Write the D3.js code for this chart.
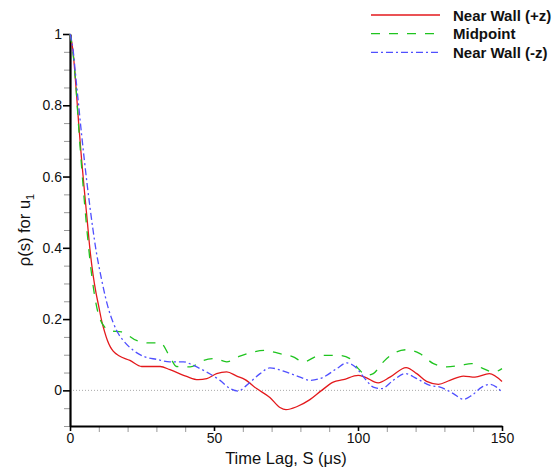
<!DOCTYPE html>
<html>
<head>
<meta charset="utf-8">
<script src="https://d3js.org/d3.v7.min.js"></script>
<style>
  body { margin: 0; background: #fff; }
  text { font-family: "Liberation Sans", Arial, sans-serif; fill: #111; }
</style>
</head>
<body>
<div id="vis"></div>
<script>
// data
var seriesNames = ["Near Wall (+z)", "Midpoint", "Near Wall (-z)"];

var lagRed = [0, 1, 2, 3, 4, 5, 6, 7, 8, 9, 10, 11, 12, 13, 14, 15, 17, 20.8, 24.9, 31.3, 34.7, 40.5, 44.5, 47.5, 50.9, 54.4, 57.9, 60.8, 64.8, 69.4, 72.9, 75, 78.7, 83.3, 87.4, 91.4, 94.9, 100.1, 102.4, 107, 111.1, 116.7, 120.4, 123.8, 127.9, 131.9, 136.6, 140.6, 145.6, 150];
var rhoRed = [1, 0.955, 0.86, 0.75, 0.65, 0.56, 0.475, 0.39, 0.325, 0.275, 0.235, 0.195, 0.165, 0.14, 0.122, 0.11, 0.097, 0.084, 0.067, 0.067, 0.058, 0.039, 0.030, 0.033, 0.047, 0.052, 0.040, 0.030, 0.005, -0.020, -0.048, -0.054, -0.046, -0.026, 0, 0.023, 0.030, 0.042, 0.037, 0.021, 0.037, 0.064, 0.047, 0.025, 0.017, 0.028, 0.040, 0.037, 0.047, 0.025];

var lagGreen = [0, 1, 2, 3, 4, 5, 6, 7, 8, 9, 10, 11, 12, 13.9, 17.9, 23.1, 27.8, 31.3, 34.7, 37, 41.7, 46.3, 50.3, 54.4, 59, 63.7, 67.7, 72.9, 77.5, 81, 86.8, 93.8, 97.2, 100.1, 103, 105.3, 108.8, 113.4, 116.9, 121.5, 126.2, 130.8, 135.4, 139.5, 143.5, 147, 150];
var rhoGreen = [1, 0.95, 0.86, 0.74, 0.63, 0.53, 0.44, 0.36, 0.295, 0.245, 0.21, 0.19, 0.178, 0.167, 0.164, 0.140, 0.133, 0.134, 0.094, 0.067, 0.066, 0.084, 0.089, 0.080, 0.096, 0.108, 0.112, 0.103, 0.094, 0.080, 0.098, 0.098, 0.089, 0.061, 0.042, 0.047, 0.080, 0.108, 0.114, 0.103, 0.075, 0.066, 0.070, 0.075, 0.061, 0.051, 0.061];

var lagBlue = [0, 1, 2, 3, 4, 5, 6, 7, 8, 9, 10, 11, 12.2, 13.5, 15, 16.5, 18.5, 22, 26, 30.1, 34.7, 39.4, 42.8, 47.5, 52.1, 55.6, 58.4, 61.3, 66, 69.4, 75.2, 79.9, 83.3, 88, 92.6, 96.1, 99, 102.4, 105.3, 108.2, 112.2, 116.3, 120.4, 125, 128.5, 133.1, 136.6, 139.5, 143, 145.8, 148.1, 150];
var rhoBlue = [1, 0.96, 0.88, 0.80, 0.72, 0.645, 0.575, 0.51, 0.45, 0.395, 0.35, 0.31, 0.265, 0.225, 0.19, 0.163, 0.140, 0.112, 0.094, 0.087, 0.080, 0.080, 0.070, 0.051, 0.028, 0.005, -0.002, 0.014, 0.047, 0.063, 0.051, 0.037, 0.028, 0.037, 0.061, 0.077, 0.066, 0.033, 0.009, 0.005, 0.028, 0.047, 0.033, 0.014, 0.009, -0.009, -0.025, -0.014, 0.009, 0.017, 0.009, -0.005];

var xTicks = [0, 50, 100, 150];
var yTicks = [0, 0.2, 0.4, 0.6, 0.8, 1];

var W = 560, H = 475;
var plotLeft = 70, plotRight = 502, plotTop = 34, plotBottom = 426;

var svg = d3.select("#vis").append("svg")
  .attr("width", W)
  .attr("height", H);

var x = d3.scaleLinear().domain([0, 150]).range([plotLeft, plotRight]);
var y = d3.scaleLinear().domain([-0.1, 1]).range([plotBottom, plotTop]);

// zero reference line
svg.append("line")
  .attr("x1", x(0)).attr("x2", x(150))
  .attr("y1", y(0)).attr("y2", y(0))
  .attr("stroke", "#aaa").attr("stroke-width", 1)
  .attr("stroke-dasharray", "1,2");

// minor ticks (grey)
var xMinor = d3.range(0, 151, 10).filter(function(d){ return xTicks.indexOf(d) < 0; });
var yMinor = d3.range(-0.1, 1.001, 0.05).map(function(d){ return Math.round(d*100)/100; })
  .filter(function(d){ return yTicks.indexOf(d) < 0; });

svg.append("g")
  .attr("transform", "translate(0," + plotBottom + ")")
  .call(d3.axisBottom(x).tickValues(xMinor).tickSize(6).tickFormat(""))
  .call(function(g){ g.select(".domain").remove(); g.selectAll("line").attr("stroke", "#999"); });

svg.append("g")
  .attr("transform", "translate(" + plotLeft + ",0)")
  .call(d3.axisLeft(y).tickValues(yMinor).tickSize(6).tickFormat(""))
  .call(function(g){ g.select(".domain").remove(); g.selectAll("line").attr("stroke", "#999"); });

// major axes
var xAxis = svg.append("g")
  .attr("transform", "translate(0," + plotBottom + ")")
  .call(d3.axisBottom(x).tickValues(xTicks).tickSize(5).tickSizeOuter(0).tickPadding(2));
var yAxis = svg.append("g")
  .attr("transform", "translate(" + plotLeft + ",0)")
  .call(d3.axisLeft(y).tickValues(yTicks).tickSize(7).tickSizeOuter(0).tickPadding(1)
    .tickFormat(function(d){ return d; }));

[xAxis, yAxis].forEach(function(g){
  g.select(".domain").attr("stroke", "#000").attr("stroke-width", 2.2);
  g.selectAll(".tick line").attr("stroke", "#000").attr("stroke-width", 1.6);
  g.selectAll(".tick text")
    .attr("font-size", 14)
    .attr("font-family", "'Liberation Sans', Arial, sans-serif")
    .attr("fill", "#111");
});

// curves
var series = [
  {name: seriesNames[0], lag: lagRed, rho: rhoRed, color: "#e3191c", dash: null},
  {name: seriesNames[1], lag: lagGreen, rho: rhoGreen, color: "#1fc41f", dash: "9,9"},
  {name: seriesNames[2], lag: lagBlue, rho: rhoBlue, color: "#4f4fff", dash: "7,3,2,3"}
];

var line = d3.line()
  .x(function(d){ return x(d[0]); })
  .y(function(d){ return y(d[1]); })
  .curve(d3.curveMonotoneX);

series.forEach(function(s){
  var pts = s.lag.map(function(v, i){ return [v, s.rho[i]]; });
  svg.append("path")
    .datum(pts)
    .attr("d", line)
    .attr("fill", "none")
    .attr("stroke", s.color)
    .attr("stroke-width", 1.3)
    .attr("stroke-dasharray", s.dash);
});

// legend
var legend = svg.append("g");
series.forEach(function(s, i){
  var ly = 15 + i * 18.7;
  legend.append("line")
    .attr("x1", 371).attr("x2", 440)
    .attr("y1", ly).attr("y2", ly)
    .attr("stroke", s.color).attr("stroke-width", 1.3)
    .attr("stroke-dasharray", s.dash);
  legend.append("text")
    .attr("x", 453).attr("y", ly + 5.5)
    .attr("font-size", 15)
    .attr("font-weight", "bold")
    .text(s.name);
});

// axis titles
svg.append("text")
  .attr("x", (plotLeft + plotRight) / 2)
  .attr("y", 464)
  .attr("text-anchor", "middle")
  .attr("font-size", 16.5)
  .text("Time Lag, S (\u03bcs)");

var yt = svg.append("text")
  .attr("transform", "translate(30," + ((plotTop + plotBottom) / 2) + ") rotate(-90)")
  .attr("text-anchor", "middle")
  .attr("font-size", 16.5);
yt.append("tspan").text("\u03c1(s) for u");
yt.append("tspan").attr("font-size", 11).attr("dy", 4).text("1");
</script>
</body>
</html>
